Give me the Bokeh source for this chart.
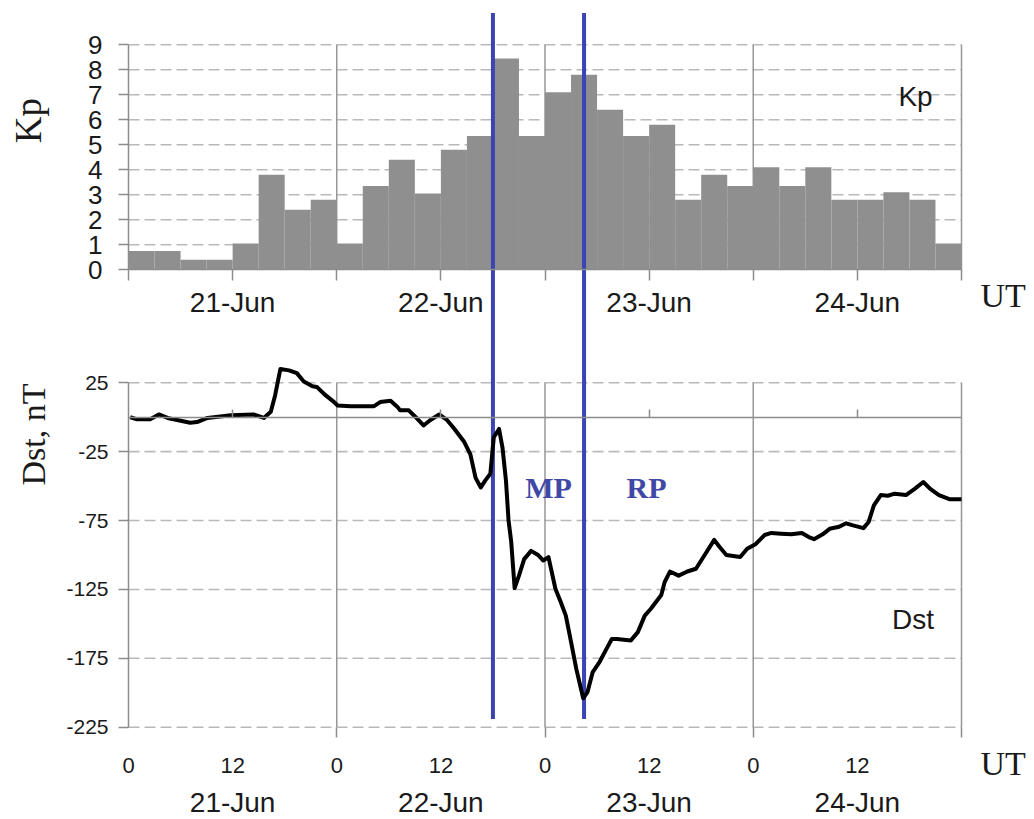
import math
from bokeh.plotting import figure
from bokeh.models import Range1d, LinearAxis, FixedTicker, Label
from bokeh.embed import file_html
from bokeh.resources import INLINE

# ---------------- data ----------------
kp_bin_hours = 3
kp_values = [0.75, 0.75, 0.4, 0.4, 1.05, 3.8, 2.4, 2.8,
             1.05, 3.35, 4.4, 3.05, 4.8, 5.35, 8.45, 5.35,
             7.1, 7.8, 6.4, 5.35, 5.8, 2.8, 3.8, 3.35,
             4.1, 3.35, 4.1, 2.8, 2.8, 3.1, 2.8, 1.05]

dst_hours = [0.2, 1.0, 2.5, 3.5, 4.5, 5.6, 7.1, 7.9, 9.1, 11.8,
             14.4, 15.6, 16.4, 16.9, 17.5, 18.5, 19.4, 20.2, 21.2, 21.7,
             22.7, 23.7, 24.1, 25.6, 28.3, 29.0, 30.2, 31.0, 31.3, 32.3,
             33.1, 34.0, 34.8, 35.8, 36.7, 37.5, 38.7, 39.4, 40.0, 40.6,
             41.1, 41.7, 42.1, 42.7, 43.1, 43.5, 43.8, 44.1, 44.5, 45.0,
             45.6, 46.4, 47.2, 47.8, 48.4, 49.2, 49.8, 50.4, 51.0, 51.6,
             52.4, 52.9, 53.5, 54.3, 55.1, 55.7, 56.3, 57.9, 58.7, 59.5,
             60.2, 61.4, 61.8, 62.4, 63.4, 64.4, 65.4, 66.4, 67.5, 68.1,
             68.9, 70.5, 71.3, 72.3, 73.3, 74.1, 75.2, 76.4, 77.6, 78.4,
             79.0, 80.0, 80.8, 81.9, 82.7, 83.5, 84.7, 85.3, 85.9, 86.7,
             87.5, 88.3, 89.6, 90.6, 91.6, 92.4, 93.4, 94.6, 96.0]
dst_values = [0, -1.5, -1.5, 2, -0.5, -2, -4, -3.5, -0.5, 1.5,
              2, -0.5, 4, 16, 35, 34, 32, 26, 22.5, 22,
              16, 11, 8.5, 8, 8, 11, 12, 7.5, 5, 5,
              0, -6, -2, 2, -2, -8, -18, -27, -44, -51,
              -46, -41, -14.5, -8.5, -22, -46, -75, -90, -124, -115,
              -103, -97, -100, -104, -101.5, -124.5, -134, -144, -163, -182.5,
              -204, -199.5, -185, -177.5, -168, -161, -161, -162, -156, -144,
              -139, -129, -119.5, -112, -115, -112, -110, -100, -89, -94,
              -100, -101.5, -95.5, -92, -85.5, -84, -84.5, -85, -84, -87,
              -88.5, -85, -81, -79.5, -77, -78.5, -80.5, -76, -64, -56.5,
              -57, -55.5, -56.5, -52, -47, -52, -56.5, -59.5, -59.5]

day_labels = ["21-Jun", "22-Jun", "23-Jun", "24-Jun"]
day_start_hours = [0, 24, 48, 72]
day_end_hours = [24, 48, 72, 96]
hour_ticks = [0, 12, 24, 36, 48, 60, 72, 84]
kp_ticks = [0, 1, 2, 3, 4, 5, 6, 7, 8, 9]
dst_ticks = [25, -25, -75, -125, -175, -225]
phase_boundaries = [42.0, 52.5]   # start of main phase, start of recovery phase
phase_labels = ["MP", "RP"]
phase_label_hours = [48.4, 59.7]

# ---------------- styles ----------------
SANS = "Liberation Sans"
SERIF = "Liberation Serif"
GRID_C = "#b9b9b9"
AX_C = "#8c8c8c"
VG_C = "#979797"
TXT_C = "#1a1a1a"
BLUE = "#3a45b2"
BLUE_TXT = "#4048a6"

T0, T1 = 0, 96
KP_LO, KP_HI = 0, 9
DST_LO, DST_HI = -225, 25

p = figure(width=1034, height=819,
           x_range=Range1d(-14.752, 104.413), y_range=Range1d(-292.0, 302.5),
           x_axis_type=None, y_axis_type=None,
           toolbar_location=None, output_backend="svg",
           min_border_left=0, min_border_right=0,
           min_border_top=0, min_border_bottom=0)
p.extra_y_ranges = {"kp": Range1d(-21.988, 10.772)}
p.outline_line_color = None
p.background_fill_color = "white"
p.border_fill_color = "white"

# horizontal dashed grid lines
kp_grid = kp_ticks[1:]
p.segment(x0=T0, x1=T1, y0=kp_grid, y1=kp_grid, y_range_name="kp",
          line_color=GRID_C, line_dash="11 5", line_width=1.6)
p.segment(x0=T0, x1=T1, y0=dst_ticks, y1=dst_ticks,
          line_color=GRID_C, line_dash="11 5", line_width=1.6)

# vertical day-boundary lines
p.segment(x0=day_end_hours, y0=KP_LO, x1=day_end_hours, y1=KP_HI,
          y_range_name="kp", line_color=VG_C, line_width=1.5)
p.segment(x0=day_end_hours, y0=DST_HI, x1=day_end_hours, y1=DST_LO,
          line_color=VG_C, line_width=1.5)

# Kp bars
kp_centers = [kp_bin_hours * (i + 0.5) for i in range(len(kp_values))]
p.vbar(x=kp_centers, top=kp_values, bottom=0, width=kp_bin_hours,
       y_range_name="kp", fill_color="#8f8f8f", line_color=None)

# phase boundary lines
p.segment(x0=phase_boundaries, y0=293.5, x1=phase_boundaries, y1=-219,
          line_color=BLUE, line_width=4)

# Dst curve
p.line(dst_hours, dst_values, line_color="black", line_width=4,
       line_join="round")

# ---------------- axes ----------------
def style_axis(ax, size, font=SANS):
    ax.major_label_text_font = font
    ax.major_label_text_font_size = size
    ax.major_label_text_color = TXT_C
    ax.axis_line_color = AX_C
    ax.axis_line_width = 1.5
    ax.major_tick_line_color = AX_C
    ax.major_tick_line_width = 1.5
    ax.minor_tick_line_color = None

# Kp y axis
ax_kp = LinearAxis(y_range_name="kp", fixed_location=0, bounds=(KP_LO, KP_HI),
                   ticker=FixedTicker(ticks=kp_ticks))
style_axis(ax_kp, "26px")
ax_kp.major_tick_out = 10
ax_kp.major_tick_in = 0
ax_kp.major_label_standoff = 16
p.add_layout(ax_kp, "left")

# Dst y axis
ax_dst = LinearAxis(fixed_location=0, bounds=(DST_LO, DST_HI),
                    ticker=FixedTicker(ticks=dst_ticks))
style_axis(ax_dst, "21px")
ax_dst.major_tick_out = 10
ax_dst.major_tick_in = 0
ax_dst.major_label_standoff = 10
ax_dst.major_label_overrides = {t: str(t) for t in dst_ticks}
p.add_layout(ax_dst, "left")

# Kp time axis (labels under day middles)
kp_time_ticks = hour_ticks + [96]
ax_kpx = LinearAxis(y_range_name="kp", fixed_location=0, bounds=(T0, T1),
                    ticker=FixedTicker(ticks=kp_time_ticks))
style_axis(ax_kpx, "28px")
ax_kpx.major_tick_out = 11
ax_kpx.major_tick_in = 0
ax_kpx.major_label_standoff = 6
ax_kpx.major_label_overrides = {t: "" for t in kp_time_ticks}
for d, lab in zip(day_start_hours, day_labels):
    ax_kpx.major_label_overrides[d + 12] = lab
p.add_layout(ax_kpx, "below")

# Dst zero line axis
ax_zero = LinearAxis(fixed_location=0, bounds=(T0, T1),
                     ticker=FixedTicker(ticks=[d + 12 for d in day_start_hours]))
style_axis(ax_zero, "0px")
ax_zero.major_tick_in = 8
ax_zero.major_tick_out = 0
ax_zero.major_label_overrides = {d + 12: "" for d in day_start_hours}
p.add_layout(ax_zero, "below")

# little tick extensions below -225
ax_ext = LinearAxis(fixed_location=DST_LO, bounds=(T0, T1),
                    ticker=FixedTicker(ticks=day_end_hours))
style_axis(ax_ext, "0px")
ax_ext.axis_line_color = None
ax_ext.major_tick_out = 10
ax_ext.major_tick_in = 0
ax_ext.major_label_overrides = {t: "" for t in day_end_hours}
p.add_layout(ax_ext, "below")

# hour labels
ax_hours = LinearAxis(fixed_location=DST_LO, bounds=(T0, T1),
                      ticker=FixedTicker(ticks=hour_ticks))
style_axis(ax_hours, "22px")
ax_hours.axis_line_color = None
ax_hours.major_tick_line_color = None
ax_hours.major_tick_out = 0
ax_hours.major_tick_in = 0
ax_hours.major_label_standoff = 31
ax_hours.major_label_overrides = {t: str(t % 24) for t in hour_ticks}
p.add_layout(ax_hours, "below")

# date labels
ax_dates = LinearAxis(fixed_location=DST_LO, bounds=(T0, T1),
                      ticker=FixedTicker(ticks=[d + 12 for d in day_start_hours]))
style_axis(ax_dates, "28px")
ax_dates.axis_line_color = None
ax_dates.major_tick_line_color = None
ax_dates.major_tick_out = 0
ax_dates.major_tick_in = 0
ax_dates.major_label_standoff = 60
ax_dates.major_label_overrides = {d + 12: lab for d, lab in zip(day_start_hours, day_labels)}
p.add_layout(ax_dates, "below")

# ---------------- texts ----------------
p.add_layout(Label(x=-11.5, y=5.97, y_range_name="kp", text="Kp",
                   angle=math.pi / 2, text_align="center", text_baseline="middle",
                   text_font=SERIF, text_font_size="37px", text_color=TXT_C))
p.add_layout(Label(x=-10.95, y=-12.5, text="Dst, nT",
                   angle=math.pi / 2, text_align="center", text_baseline="middle",
                   text_font=SERIF, text_font_size="34px", text_color=TXT_C))
p.add_layout(Label(x=90.7, y=6.93, y_range_name="kp", text="Kp",
                   text_align="center", text_baseline="middle",
                   text_font=SANS, text_font_size="28px", text_color=TXT_C))
p.add_layout(Label(x=90.4, y=-146.8, text="Dst",
                   text_align="center", text_baseline="middle",
                   text_font=SANS, text_font_size="28px", text_color=TXT_C))
p.add_layout(Label(x=100.8, y=-1.03, y_range_name="kp", text="UT",
                   text_align="center", text_baseline="middle",
                   text_font=SERIF, text_font_size="34px", text_color=TXT_C))
p.add_layout(Label(x=100.8, y=-251.4, text="UT",
                   text_align="center", text_baseline="middle",
                   text_font=SERIF, text_font_size="34px", text_color=TXT_C))
for hx, lab in zip(phase_label_hours, phase_labels):
    p.add_layout(Label(x=hx, y=-51, text=lab,
                       text_align="center", text_baseline="middle",
                       text_font=SERIF, text_font_style="bold",
                       text_font_size="30px", text_color=BLUE_TXT))

open("out.html", "w").write(file_html(p, INLINE))
